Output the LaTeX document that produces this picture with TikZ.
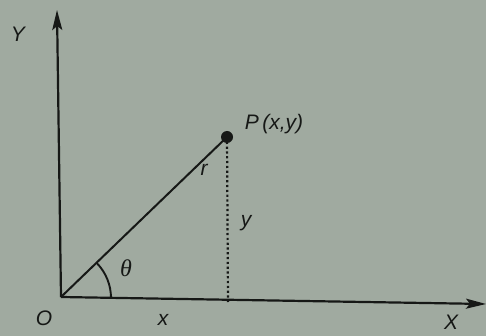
\documentclass[tikz,border=0pt]{standalone}
\usepackage{fontspec}
\setmainfont{Liberation Sans}
\newfontfamily\thetafont{Liberation Serif}
\usetikzlibrary{arrows.meta,calc}
\definecolor{paper}{RGB}{160,170,160}
\definecolor{ink}{RGB}{22,24,22}
\begin{document}
\begin{tikzpicture}[x=1pt,y=-1pt,
  axis/.style={draw=ink,line width=2.2pt,-{Stealth[length=20pt,width=10pt,inset=4pt]}},
  lbl/.style={text=ink,font=\fontsize{21}{23}\selectfont\itshape,inner sep=0pt},
  radius line/.style={draw=ink,line width=2pt},
  dotline/.style={draw=ink,line width=2.2pt,dash pattern=on 2.2pt off 2.6pt}]
\fill[paper] (0,0) rectangle (486,336);
\useasboundingbox (0,0) rectangle (486,336);
\coordinate (O) at (61,297);
\coordinate (Yend) at (57,10);
\coordinate (Xend) at (486,304);
\coordinate (P) at (227,137);
\coordinate (F) at (228,302);
\draw[axis] (O) -- (Yend);
\draw[axis] (O) -- (Xend);
\draw[radius line] (O) -- (P);
\draw[dotline] (P) -- (F);
\fill[ink] (P) circle (6);
\draw[ink,line width=1.9pt] ($(O)+(50,1)$) arc[start angle=0,end angle=-44,radius=50];
\node[lbl] (lY) at (18,34) {Y};
\node[lbl] (lP) at (274,124) {P\,(x,y)};
\node[lbl] (lr) at (204,170) {r};
\node[lbl] (ly) at (246,223) {y};
\node[lbl,font=\fontsize{24}{26}\selectfont\thetafont\itshape] (lt) at (126,268) {θ};
\node[lbl] (lO) at (44,318) {O};
\node[lbl] (lx) at (163,320) {x};
\node[lbl] (lX) at (451,322) {X};
\end{tikzpicture}
\end{document}
